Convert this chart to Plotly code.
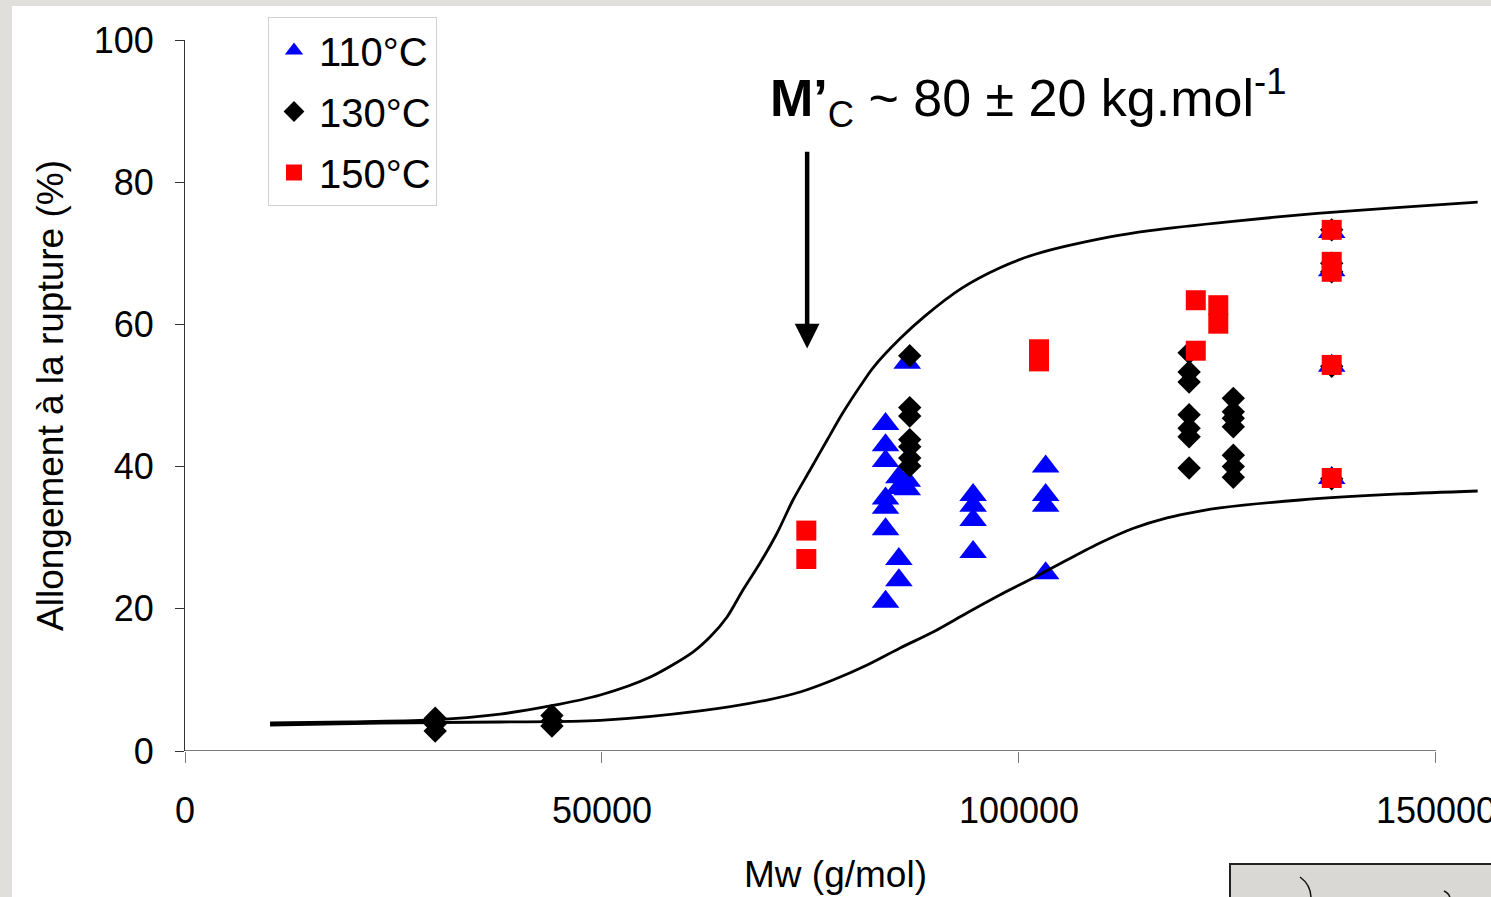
import plotly.graph_objects as go

# ---------------- data ----------------
mw_110 = [84000, 84000, 84000, 84000, 84000, 84000, 84000,
          85600, 85600, 85600, 85600,
          86600, 86600, 86600,
          94500, 94500, 94500, 94500,
          103200, 103200, 103200, 103200,
          137500, 137500, 137500, 137500]
el_110 = [46.0, 43.0, 40.8, 35.5, 34.2, 31.2, 21.0,
          38.5, 37.0, 27.0, 24.0,
          54.6, 38.0, 36.8,
          36.0, 34.5, 32.5, 28.0,
          40.0, 36.0, 34.5, 25.0,
          73.0, 67.6, 54.2, 38.4]

mw_130 = [30000, 30000, 30000,
          44000, 44000, 44000,
          86900, 86900, 86900, 86900, 86900, 86900, 86900,
          120400, 120400, 120400, 120400, 120400, 120400, 120400,
          125700, 125700, 125700, 125700, 125700, 125700, 125700,
          137500, 137500, 137500, 137500, 137500]
el_130 = [4.6, 3.8, 2.8,
          5.0, 4.2, 3.5,
          55.6, 48.3, 47.1, 43.8, 42.8, 41.2, 40.1,
          56.0, 53.3, 51.9, 47.3, 45.4, 44.2, 39.8,
          49.6, 47.7, 46.8, 45.6, 41.6, 40.0, 38.5,
          73.3, 68.6, 67.4, 54.1, 38.3]

mw_150 = [74500, 74500,
          102400, 102400,
          121200, 121200,
          123900, 123900,
          137500, 137500, 137500, 137500, 137500]
el_150 = [31.0, 27.0,
          56.5, 54.8,
          63.4, 56.3,
          62.7, 60.1,
          73.3, 68.8, 67.4, 54.3, 38.4]

upper_x = [10200, 19800, 29400, 37800, 43800, 49800, 55800, 60900, 62950, 65000,
           66900, 68950, 71000, 72900, 74950, 77000, 78900, 80950, 82500, 85750,
           88750, 93150, 97600, 102050, 110900, 115700, 125650, 135750, 145700, 155000]
upper_y = [3.94, 4.08, 4.36, 5.20, 6.33, 7.88, 10.41, 13.92, 16.03, 18.85,
           22.64, 26.44, 30.66, 35.30, 39.52, 43.74, 47.60, 51.30, 53.90, 58.00,
           61.20, 65.10, 67.90, 69.90, 72.30, 73.20, 74.50, 75.60, 76.45, 77.20]

lower_x = [10200, 23400, 37800, 49800, 61750, 69800, 73750, 77700, 81800, 85750,
           89700, 93750, 97700, 101700, 105750, 109700, 113650, 117750, 121700, 124100,
           133700, 145700, 155000]
lower_y = [3.66, 3.94, 4.08, 4.30, 5.63, 7.17, 8.30, 9.99, 12.10, 14.49,
           16.74, 19.41, 21.94, 24.33, 26.86, 29.25, 31.30, 32.80, 33.75, 34.20,
           35.30, 36.15, 36.57]

series_names = ["110°C", "130°C", "150°C"]
x_ticks = [0, 50000, 100000, 150000]
x_ticktext = ["0", "50000", "100000", "150000"]
y_ticks = [0, 20, 40, 60, 80, 100]

mc_x = 74600       # arrow position (Mw)
mc_y_tip = 56.6
mc_y_tail = 84.5

# ---------------- figure ----------------
FONT = "Liberation Sans, Arial, sans-serif"
W, H = 1491, 897
ML, MR, MT, MB = 185, 5, 40, 146
PW, PH = W - ML - MR, H - MT - MB


def px(xp):
    return (xp - ML) / PW


def py(yp):
    return (H - MB - yp) / PH


fig = go.Figure()

fig.add_trace(go.Scatter(x=mw_110, y=el_110, mode="markers", name=series_names[0],
                         legendgroup="a",
                         marker=dict(symbol="triangle-up", size=24, color="#0000ff",
                                     line=dict(width=0))))
fig.add_trace(go.Scatter(x=mw_130, y=el_130, mode="markers", name=series_names[1],
                         legendgroup="b",
                         marker=dict(symbol="diamond", size=18, color="#000000",
                                     line=dict(width=0))))
fig.add_trace(go.Scatter(x=mw_150, y=el_150, mode="markers", name=series_names[2],
                         legendgroup="c",
                         marker=dict(symbol="square", size=20, color="#ff0000",
                                     line=dict(width=0))))
fig.add_trace(go.Scatter(x=upper_x, y=upper_y, mode="lines", showlegend=False,
                         line=dict(color="black", width=2.8, shape="spline", smoothing=0.8)))
fig.add_trace(go.Scatter(x=lower_x, y=lower_y, mode="lines", showlegend=False,
                         line=dict(color="black", width=2.8, shape="spline", smoothing=0.8)))

shapes = [
    # x axis line (only up to 150000)
    dict(type="line", xref="x", yref="y", x0=0, x1=150000, y0=0, y1=0,
         line=dict(color="#7a7a7a", width=2)),
    # grey frame strips
    dict(type="rect", xref="paper", yref="paper", x0=px(-5), x1=px(12), y0=py(905), y1=py(-5),
         fillcolor="#e0dfdb", line=dict(width=0)),
    dict(type="rect", xref="paper", yref="paper", x0=px(-5), x1=px(1500), y0=py(6), y1=py(-5),
         fillcolor="#e0dfdb", line=dict(width=0)),
    # bottom-right grey box
    dict(type="rect", xref="paper", yref="paper", x0=px(1230), x1=px(1500), y0=py(905), y1=py(864),
         fillcolor="#d9d8d4", line=dict(color="#222222", width=2)),
    dict(type="path", xref="paper", yref="paper",
         path=f"M {px(1300)} {py(877)} Q {px(1311)} {py(885)} {px(1311)} {py(898)}",
         line=dict(color="#111111", width=1.5)),
    dict(type="path", xref="paper", yref="paper",
         path=f"M {px(1444)} {py(891)} Q {px(1449)} {py(893)} {px(1450)} {py(898)}",
         line=dict(color="#111111", width=1.5)),
]

annotations = [
    dict(xref="x", yref="y", x=mc_x, y=mc_y_tip, axref="x", ayref="y", ax=mc_x, ay=mc_y_tail,
         text="", showarrow=True, arrowhead=2, arrowsize=1.1, arrowwidth=4.5,
         arrowcolor="black"),
    dict(xref="paper", yref="paper", x=px(768), y=py(98), xanchor="left", yanchor="middle",
         text="<b>M’</b><sub>C</sub> ~ 80 ± 20 kg.mol<sup>-1</sup>", showarrow=False,
         font=dict(family=FONT, size=52, color="black")),
]

fig.update_layout(
    width=W, height=H,
    margin=dict(l=ML, r=MR, t=MT, b=MB, pad=0, autoexpand=False),
    paper_bgcolor="white", plot_bgcolor="white",
    font=dict(family=FONT, size=36, color="black"),
    showlegend=True,
    legend=dict(x=px(268), y=py(17), xanchor="left", yanchor="top",
                bgcolor="white", bordercolor="#d0d0d0", borderwidth=1,
                font=dict(family=FONT, size=40, color="black"),
                traceorder="grouped", tracegroupgap=6,
                itemwidth=40),
    xaxis=dict(range=[0, 156000], tickvals=x_ticks, ticktext=x_ticktext,
               automargin=False,
               showline=False, zeroline=False, showgrid=False,
               ticks="outside", ticklen=11, tickwidth=1, tickcolor="#7a7a7a",
               ticklabelstandoff=17, ticklabeloverflow="allow",
               tickfont=dict(family=FONT, size=36, color="black"),
               title=dict(text="Mw (g/mol)", standoff=30,
                          font=dict(family=FONT, size=37, color="black"))),
    yaxis=dict(range=[0, 100], tickvals=y_ticks,
               automargin=False,
               showline=True, linecolor="#333333", linewidth=1,
               zeroline=False, showgrid=False,
               ticks="outside", ticklen=9, tickwidth=1, tickcolor="#333333",
               ticklabelstandoff=14,
               tickfont=dict(family=FONT, size=36, color="black"),
               title=dict(text="Allongement à la rupture (%)", standoff=18,
                          font=dict(family=FONT, size=37, color="black"))),
    shapes=shapes,
    annotations=annotations,
)

fig.write_html("out.html",
               config={"displayModeBar": False},
               post_script="document.body.style.margin='0';document.body.style.padding='0';"
                           "document.body.style.overflow='hidden';")
